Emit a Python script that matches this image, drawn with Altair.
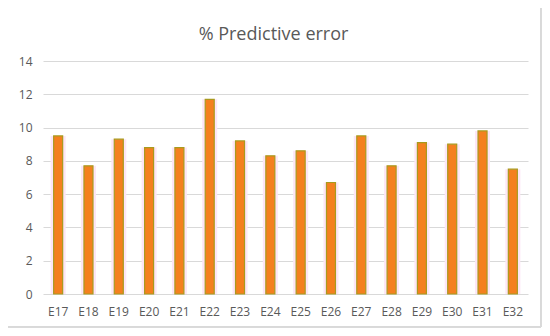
import altair as alt
import pandas as pd

categories = ["E17", "E18", "E19", "E20", "E21", "E22", "E23", "E24",
              "E25", "E26", "E27", "E28", "E29", "E30", "E31", "E32"]
values = [9.5, 7.7, 9.3, 8.8, 8.8, 11.7, 9.2, 8.3,
          8.6, 6.7, 9.5, 7.7, 9.1, 9.0, 9.8, 7.5]

df = pd.DataFrame({"cat": categories, "val": values})

W, H = 485, 233
FONT = "Open Sans"
GRAY = "#595959"

x = alt.X("cat:N", sort=categories, title=None,
          scale=alt.Scale(paddingInner=0.7, paddingOuter=0.35),
          axis=alt.Axis(labelAngle=0, labelFont=FONT, labelFontSize=12,
                        labelColor=GRAY, labelPadding=12, ticks=False,
                        domain=False, grid=False))
y = alt.Y("val:Q", title=None,
          scale=alt.Scale(domain=[0, 14]),
          axis=alt.Axis(values=[0, 2, 4, 6, 8, 10, 12, 14], labelFont=FONT,
                        labelFontSize=12, labelColor=GRAY, labelPadding=11,
                        ticks=False, domain=False, grid=True,
                        gridColor="#D9D9D9", gridWidth=1))

halo = alt.Chart(df).mark_bar(size=15, color="#FDE6F6").encode(x=x, y=y)
bars = alt.Chart(df).mark_bar(size=9, color="#F4801F", stroke="#A99A1E",
                              strokeWidth=1.2).encode(x=x, y=y)

border = alt.Chart(df).mark_rect(fill=None, stroke="#D9D9D9", strokeWidth=1).encode(
    x=alt.value(-37), x2=alt.value(498), y=alt.value(-54), y2=alt.value(266))

chart = alt.layer(border, halo, bars).properties(
    width=W, height=H,
    title=alt.TitleParams("% Predictive error", font=FONT, fontSize=18,
                          fontWeight="normal", color=GRAY, offset=0, dy=37,
                          anchor="middle", frame="bounds"),
    autosize=alt.AutoSizeParams(type="none"),
    padding={"left": 35, "top": 53, "right": 14, "bottom": 34},
).configure_view(stroke=None)

chart.save("out.html", embed_options={"renderer": "svg", "actions": False})
